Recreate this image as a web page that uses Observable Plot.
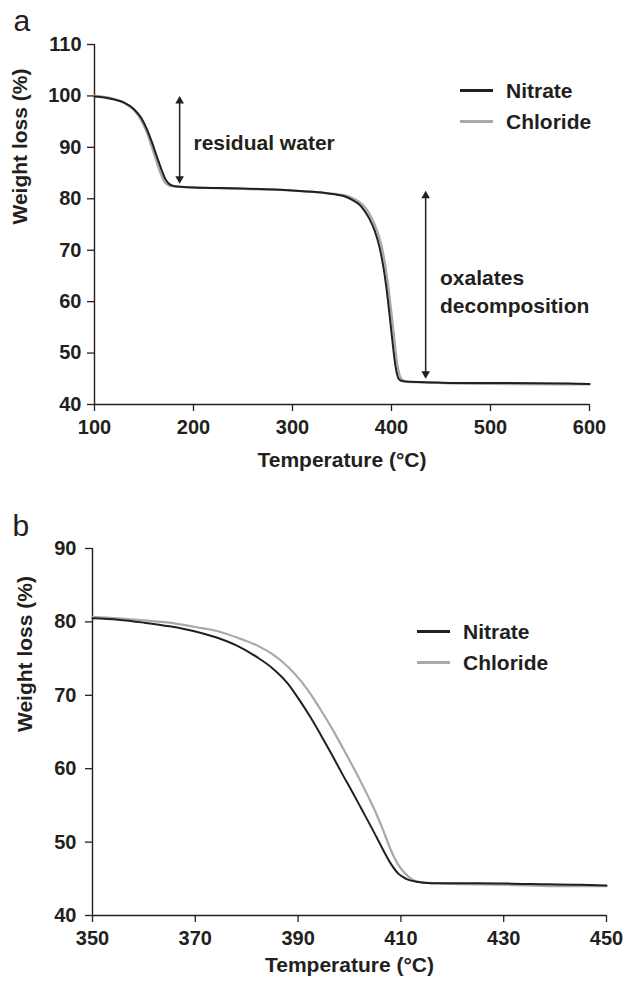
<!DOCTYPE html>
<html>
<head>
<meta charset="utf-8">
<script src="https://cdn.jsdelivr.net/npm/d3@7"></script>
<script src="https://cdn.jsdelivr.net/npm/@observablehq/plot@0.6"></script>
<style>
  body { margin: 0; background: #fff; }
  #wrap { position: relative; width: 625px; height: 981px; font-family: 'Liberation Sans', Arial, sans-serif; color: #231f20; }
  #wrap svg { display: block; }
  .leg { position: absolute; display: flex; align-items: center; font-weight: bold; font-size: 21px; line-height: 1; }
  .leg span.sw { display: inline-block; width: 33px; height: 2.5px; margin-right: 13px; }
</style>
</head>
<body>
<div id="wrap"></div>
<script>
// ---- Panel a data ----
const tempA_nitrate = [100,110,120,130,140,147,153,158,163,168,172,176,180,190,200,250,300,330,345,355,362,368,373,378,383,388,392,395,398,400,402,404,406,408,412,420,440,460,500,580,600];
const wlA_nitrate   = [99.9,99.7,99.3,98.7,97.4,95.8,93.5,91.0,88.2,85.5,83.7,82.8,82.5,82.3,82.2,82.0,81.6,81.2,80.8,80.3,79.6,78.8,77.6,76.0,73.8,70.5,66.5,62.5,57.5,54.0,50.5,47.5,45.6,44.8,44.5,44.4,44.3,44.2,44.2,44.1,44.0];
const tempA_chloride = [100,110,120,130,140,147,153,158,163,167,171,175,180,200,250,300,330,345,355,362,368,373,378,383,388,392,395,398,401,403,405,407,409,412,416,430,460,500,580,600];
const wlA_chloride   = [100.0,99.8,99.4,98.6,97.2,95.3,92.8,90.0,87.0,84.8,83.2,82.6,82.4,82.2,81.9,81.6,81.2,80.9,80.6,80.0,79.3,78.4,77.0,75.0,72.3,69.0,65.5,61.0,56.0,52.5,49.0,46.7,45.3,44.7,44.4,44.3,44.1,44.0,43.9,43.9];

// ---- Panel b data ----
const tempB_nitrate = [350,355,360,365,370,374,378,382,385,388,390.5,392.5,394.5,396.5,398.5,400.5,402.5,404.5,406.5,408,409.5,411,413,416,425,435,445,450];
const wlB_nitrate   = [80.5,80.3,79.9,79.4,78.7,77.9,76.8,75.2,73.7,71.6,69.1,66.9,64.5,62.0,59.4,56.9,54.3,51.7,49.0,47.1,45.7,45.0,44.6,44.4,44.4,44.3,44.2,44.1];
const tempB_chloride = [350,355,360,365,370,374,378,382,385,388,390.5,392.5,394.5,396.5,398.5,400.5,402,403.5,405,406.5,408,409.5,411,412,414,420,430,440,450];
const wlB_chloride   = [80.7,80.5,80.2,79.9,79.3,78.8,77.9,76.8,75.6,73.9,72.0,70.1,67.9,65.6,63.1,60.5,58.5,56.4,54.2,51.7,49.0,46.9,45.6,45.0,44.5,44.3,44.2,44.0,44.0];

// ---- Axes ----
const xTicksA = [100,200,300,400,500,600];
const yTicksA = [40,50,60,70,80,90,100,110];
const xTicksB = [350,370,390,410,430,450];
const yTicksB = [40,50,60,70,80,90];

// ---- Series / labels ----
const seriesNames = ["Nitrate","Chloride"];
const seriesColors = ["#231f20","#a7a9ac"];
const xLabel = "Temperature (°C)";
const yLabel = "Weight loss (%)";

// ---- Annotations (panel a) ----
const arrowX  = [186, 434.5];
const arrowY1 = [83.5, 45.6];
const arrowY2 = [99.4, 81.0];
const noteText = ["residual water", "oxalates\ndecomposition"];
const noteX = [200, 449];
const noteY = [91.3, 62.2];

const zip = (xs, ys) => xs.map((x, i) => ({t: x, w: ys[i]}));
const INK = "#231f20";
const FONT = "'Liberation Sans', Arial, sans-serif";

function panel({letter, letterDx, letterDy, xT, yT, nit, chl, width, height, mL, mR, mT, mB, yLabDx, xLabDy, yPad, extra}) {
  return Plot.plot({
    width, height, marginLeft: mL, marginRight: mR, marginTop: mT, marginBottom: mB,
    style: {fontFamily: FONT, fontWeight: "bold", color: INK, background: "white", overflow: "visible"},
    x: {domain: [xT[0], xT[xT.length - 1]]},
    y: {domain: [yT[0], yT[yT.length - 1]]},
    marks: [
      Plot.axisX({ticks: xT, tickSize: 7, tickPadding: 8, label: null, fontSize: 20, fontWeight: "bold", fill: INK, stroke: INK, strokeWidth: 1.3, style: "letter-spacing:0.6px"}),
      Plot.axisY({ticks: yT, tickSize: 7, tickPadding: yPad, label: null, fontSize: 20, fontWeight: "bold", fill: INK, stroke: INK, strokeWidth: 1.3, style: "letter-spacing:0.6px"}),
      Plot.ruleX([xT[0]], {stroke: INK, strokeWidth: 1.4}),
      Plot.ruleY([yT[0]], {stroke: INK, strokeWidth: 1.4}),
      Plot.line(chl, {x: "t", y: "w", stroke: seriesColors[1], strokeWidth: 2.2, curve: "monotone-x"}),
      Plot.line(nit, {x: "t", y: "w", stroke: seriesColors[0], strokeWidth: 2, curve: "monotone-x"}),
      ...extra,
      Plot.text([letter], {text: d => d, frameAnchor: "top-left", dx: letterDx, dy: letterDy, textAnchor: "start", lineAnchor: "middle", fontSize: 30, fontWeight: "normal", fill: INK}),
      Plot.text([yLabel], {text: d => d, frameAnchor: "left", dx: yLabDx, rotate: -90, fontSize: 21, fill: INK, lineAnchor: "middle"}),
      Plot.text([xLabel], {text: d => d, frameAnchor: "bottom", dy: xLabDy, fontSize: 21, fill: INK, lineAnchor: "middle"})
    ]
  });
}

const arrows = arrowX.map((x, i) => ({x, y1: arrowY1[i], y2: arrowY2[i]}));
const notes = noteText.map((t, i) => ({t, x: noteX[i], y: noteY[i]}));

const extraA = [
  Plot.ruleX(arrows, {x: "x", y1: "y1", y2: "y2", stroke: INK, strokeWidth: 1.5}),
  Plot.dot(arrows, {x: "x", y: "y2", symbol: "triangle", r: 3.2, fill: INK, stroke: null, dy: 2}),
  Plot.dot(arrows, {x: "x", y: "y1", symbol: "triangle", r: 3.2, fill: INK, stroke: null, rotate: 180, dy: -2}),
  Plot.text(notes, {x: "x", y: "y", text: "t", textAnchor: "start", lineAnchor: "middle", fontSize: 21, lineHeight: 1.32, fill: INK})
];

const wrap = document.getElementById("wrap");
wrap.appendChild(panel({
  letter: "a", letterDx: -81, letterDy: -23,
  xT: xTicksA, yT: yTicksA,
  nit: zip(tempA_nitrate, wlA_nitrate), chl: zip(tempA_chloride, wlA_chloride),
  width: 625, height: 490, mL: 94, mR: 36, mT: 44, mB: 86,
  yLabDx: -74, xLabDy: 56, yPad: 6, extra: extraA
}));
wrap.appendChild(panel({
  letter: "b", letterDx: -80, letterDy: -22,
  xT: xTicksB, yT: yTicksB,
  nit: zip(tempB_nitrate, wlB_nitrate), chl: zip(tempB_chloride, wlB_chloride),
  width: 625, height: 491, mL: 92, mR: 19, mT: 58, mB: 66,
  yLabDx: -67, xLabDy: 50, yPad: 9, extra: []
}));

function legend(left, top, gap) {
  seriesNames.forEach((name, i) => {
    const d = document.createElement("div");
    d.className = "leg";
    d.style.left = left + "px";
    d.style.top = (top + i * gap) + "px";
    d.innerHTML = `<span class="sw" style="background:${seriesColors[i]}"></span><span>${name}</span>`;
    wrap.appendChild(d);
  });
}
legend(460, 80, 31);
legend(417, 621, 31);
</script>
</body>
</html>
